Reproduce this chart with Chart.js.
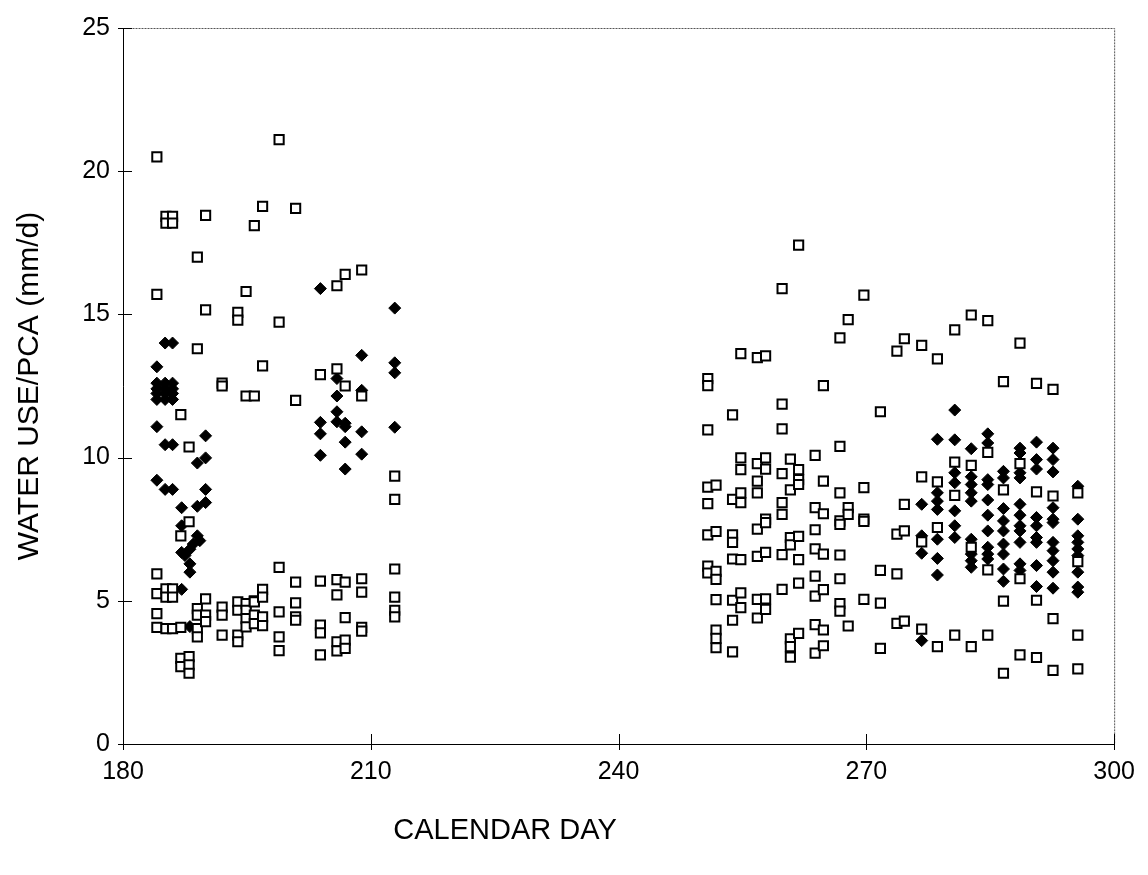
<!DOCTYPE html>
<html>
<head>
<meta charset="utf-8">
<script src="https://cdn.jsdelivr.net/npm/chart.js@4.4.1/dist/chart.umd.min.js"></script>
<style>
  html, body { margin: 0; padding: 0; background: #fff; }
  #wrap { width: 1148px; height: 875px; }
</style>
</head>
<body>
<div id="wrap"><canvas id="chart" width="1148" height="875"></canvas></div>
<script>
// Días de calendario (columnas) y valores, agrupados por día
const openDays = [
  184.1, 185.2, 186.0, 187.0, 188.0, 189.0, 190.0, 192.0, 193.9, 194.9,
  195.9, 196.9, 198.9, 200.9, 203.9, 205.9, 206.9, 208.9, 212.9,
  250.8, 251.8, 253.8, 254.8, 256.8, 257.8, 259.8, 260.8, 261.8, 263.8,
  264.8, 266.8, 267.8, 269.7, 271.7, 273.7, 274.6, 276.7, 278.6, 280.7,
  282.7, 284.7, 286.6, 288.6, 290.6, 292.6, 295.6
];
const openValues = [
  [20.5, 15.7, 5.94, 5.25, 4.55, 4.07],
  [18.42, 18.19, 5.42, 5.13, 4.03],
  [18.42, 18.19, 5.42, 5.13, 4.03],
  [11.5, 7.27, 4.07, 2.99, 2.7],
  [10.37, 7.76, 3.05, 2.76, 2.47],
  [17.0, 13.8, 4.73, 4.5, 4.03, 3.74],
  [18.46, 15.16, 5.07, 4.5, 4.27],
  [12.6, 12.5, 4.78, 4.5, 3.8],
  [15.07, 14.8, 4.96, 4.67, 3.8, 3.57],
  [15.8, 12.15, 4.9, 4.67, 4.38, 4.09],
  [18.1, 12.15, 5.0, 4.96, 4.5, 4.2],
  [18.77, 13.2, 5.4, 5.13, 4.44, 4.13],
  [21.1, 14.73, 6.17, 4.61, 3.74, 3.26],
  [18.7, 12.0, 5.65, 4.93, 4.44, 4.32],
  [12.9, 5.69, 4.15, 3.88, 3.11],
  [16.0, 13.1, 5.74, 5.21, 3.57, 3.25],
  [16.4, 12.5, 5.65, 4.41, 3.63, 3.34],
  [16.55, 12.15, 5.77, 5.3, 4.07, 3.94],
  [9.35, 8.54, 6.11, 5.13, 4.67, 4.44],
  [12.76, 12.51, 10.97, 8.97, 8.39, 7.3, 6.21, 5.97],
  [9.04, 7.42, 6.03, 5.75, 5.04, 3.98, 3.69, 3.36],
  [11.49, 8.54, 7.3, 7.04, 6.46, 5.02, 4.32, 3.22],
  [13.63, 9.99, 9.58, 8.77, 8.43, 6.44, 5.28, 4.76],
  [13.49, 9.79, 9.18, 8.77, 7.5, 6.55, 5.05, 4.4],
  [13.55, 9.99, 9.6, 7.85, 7.73, 6.69, 5.07, 4.7],
  [15.9, 11.87, 11.0, 9.44, 8.43, 8.02, 6.61, 5.4],
  [9.95, 8.87, 7.21, 6.95, 3.67, 3.4, 3.03],
  [17.42, 9.58, 9.23, 9.06, 7.25, 6.44, 5.62, 3.86],
  [10.08, 8.25, 7.48, 6.81, 5.86, 5.16, 4.17, 3.17],
  [12.51, 9.18, 8.04, 6.63, 5.39, 3.98, 3.43],
  [14.18, 10.39, 8.77, 7.79, 7.67, 6.6, 5.77, 4.9, 4.64],
  [14.82, 8.25, 8.02, 4.12],
  [15.67, 8.95, 7.85, 7.77, 5.05],
  [11.6, 6.06, 4.92, 3.34],
  [13.72, 7.33, 5.94, 4.21],
  [14.15, 8.37, 7.44, 4.29],
  [13.92, 9.33, 7.06, 4.01],
  [13.45, 9.15, 7.56, 3.4],
  [14.46, 9.84, 8.68, 3.8],
  [14.98, 9.73, 6.87, 3.4],
  [14.78, 10.18, 6.08, 3.8],
  [12.65, 8.87, 4.99, 2.47],
  [14.0, 9.79, 5.77, 3.11],
  [12.59, 8.8, 5.02, 3.02],
  [12.38, 8.66, 4.38, 2.57],
  [8.77, 6.37, 3.8, 2.62]
];

const solidDays = [
  184.1, 185.1, 186.0, 187.1, 187.5, 188.1, 188.5, 189.0, 189.3, 190.0,
  203.9, 205.9, 206.9, 208.9, 212.9,
  276.7, 278.6, 280.7, 282.7, 284.7, 286.6, 288.6, 290.6, 292.6, 295.6
];
const solidValues = [
  [13.17, 12.6, 12.4, 12.24, 12.03, 11.08, 9.21],
  [14.0, 12.6, 12.4, 12.24, 12.03, 10.45, 8.89],
  [14.0, 12.6, 12.4, 12.24, 12.03, 10.45, 8.89],
  [8.25, 7.62, 6.69, 5.4],
  [6.58],
  [6.8, 6.29, 6.0, 4.1],
  [6.98],
  [9.81, 8.3, 7.27],
  [7.1],
  [10.76, 9.99, 8.89, 8.43],
  [15.9, 11.23, 10.83, 10.08],
  [12.76, 12.15, 11.6, 11.25],
  [11.2, 11.08, 10.54, 9.6],
  [13.57, 12.35, 10.9, 10.12],
  [15.22, 13.31, 12.96, 11.06],
  [8.37, 7.27, 6.66, 3.61],
  [10.64, 8.77, 8.48, 8.19, 7.15, 6.48, 5.9],
  [11.66, 10.62, 9.47, 9.12, 8.14, 7.62, 7.21],
  [10.31, 9.33, 9.06, 8.77, 8.48, 7.15, 6.63, 6.4, 6.17],
  [10.83, 10.51, 9.23, 9.06, 8.52, 7.99, 7.44, 6.87, 6.63, 6.46],
  [9.52, 9.29, 8.22, 7.79, 7.44, 6.98, 6.63, 6.11, 5.68],
  [10.33, 10.16, 9.47, 9.29, 8.37, 7.99, 7.62, 7.44, 7.04, 6.29, 6.06],
  [10.54, 9.93, 9.6, 7.91, 7.62, 7.21, 7.04, 6.23, 5.5],
  [10.33, 9.93, 9.5, 8.25, 7.85, 7.73, 7.04, 6.75, 6.4, 6.0, 5.44],
  [9.0, 7.85, 7.27, 7.04, 6.81, 6.58, 6.0, 5.48, 5.3]
];

const xTicks = [180, 210, 240, 270, 300];
const yTicks = [0, 5, 10, 15, 20, 25];
const xTitle = 'CALENDAR DAY';

const FONT = 'Liberation Sans, Arial, sans-serif';

const toPoints = (days, values) =>
  days.flatMap((d, i) => values[i].map(v => ({ x: d, y: v })));

// Marco punteado, marcas que cruzan los ejes y título del eje X (desplazado a la izquierda como en el original)
const frameTicks = {
  id: 'frameTicks',
  afterDraw(chart) {
    const { ctx, chartArea: a, scales: { x, y } } = chart;
    ctx.save();
    ctx.strokeStyle = '#555';
    ctx.lineWidth = 1;
    ctx.setLineDash([2, 1]);
    ctx.strokeRect(a.left + 0.5, a.top + 0.5, a.right - a.left, a.bottom - a.top);
    ctx.setLineDash([]);
    ctx.strokeStyle = '#000';
    ctx.beginPath();
    ctx.moveTo(a.left + 0.5, a.top);
    ctx.lineTo(a.left + 0.5, a.bottom + 0.5);
    ctx.lineTo(a.right, a.bottom + 0.5);
    yTicks.forEach(v => {
      const py = Math.round(y.getPixelForValue(v)) + 0.5;
      ctx.moveTo(a.left - 5, py);
      ctx.lineTo(a.left + 9, py);
    });
    xTicks.forEach(v => {
      const px = Math.round(x.getPixelForValue(v)) + 0.5;
      ctx.moveTo(px, a.bottom - 10);
      ctx.lineTo(px, a.bottom + 6);
    });
    ctx.stroke();

    ctx.fillStyle = '#000';
    ctx.font = `29px ${FONT}`;
    ctx.textAlign = 'center';
    ctx.textBaseline = 'middle';
    ctx.fillText(xTitle, 505, 831);
    ctx.restore();
  }
};

new Chart(document.getElementById('chart'), {
  type: 'scatter',
  data: {
    datasets: [
      {
        label: 'open',
        data: toPoints(openDays, openValues),
        pointStyle: 'rect',
        pointRadius: 6.5,
        pointBorderWidth: 2,
        pointBackgroundColor: '#fff',
        pointBorderColor: '#000'
      },
      {
        label: 'solid',
        data: toPoints(solidDays, solidValues),
        pointStyle: 'rectRot',
        pointRadius: 6,
        pointBorderWidth: 1,
        pointBackgroundColor: '#000',
        pointBorderColor: '#000'
      }
    ]
  },
  options: {
    responsive: false,
    animation: false,
    layout: { padding: { top: 20, right: 30, bottom: 0, left: 0 } },
    plugins: { legend: { display: false }, tooltip: { enabled: false } },
    scales: {
      x: {
        type: 'linear',
        min: 180,
        max: 300,
        afterBuildTicks: s => { s.ticks = xTicks.map(v => ({ value: v })); },
        afterFit: s => { s.height = 131; },
        grid: { display: false, drawTicks: false },
        border: { display: false },
        ticks: { padding: 13, color: '#000', font: { family: FONT, size: 25 } },
        title: { display: false }
      },
      y: {
        min: 0,
        max: 25,
        afterBuildTicks: s => { s.ticks = yTicks.map(v => ({ value: v })); },
        afterFit: s => { s.width = 123; },
        grid: { display: false, drawTicks: false },
        border: { display: false },
        ticks: { padding: 13, color: '#000', font: { family: FONT, size: 25 } },
        title: {
          display: true,
          text: 'WATER USE/PCA (mm/d)',
          color: '#000',
          font: { family: FONT, size: 30 },
          padding: { top: 12, bottom: 0 }
        }
      }
    }
  },
  plugins: [frameTicks]
});
</script>
</body>
</html>
